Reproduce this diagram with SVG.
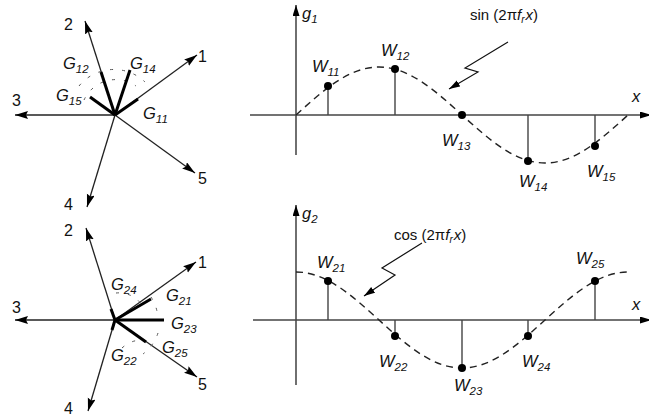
<svg xmlns="http://www.w3.org/2000/svg" width="649" height="419" viewBox="0 0 649 419">
<style>
.ax{stroke:#222;stroke-width:1.3;fill:none}
.gax{stroke:#444;stroke-width:1.4;fill:none}
.bold{stroke:#000;stroke-width:3;fill:none;stroke-linecap:butt}
.arc{stroke:#555;stroke-width:1;fill:none;stroke-dasharray:3 9}
.crv{stroke:#222;stroke-width:1.4;fill:none;stroke-dasharray:7 5}
.stem{stroke:#444;stroke-width:1.4}
.dot{fill:#000}
.num{font-family:"Liberation Sans",Arial,sans-serif;font-size:16px;fill:#111}
.lab{font-family:"Liberation Sans",Arial,sans-serif;font-size:16.5px;font-style:italic;fill:#111}
.sub{font-size:11.5px}
.fn{font-family:"Liberation Sans",Arial,sans-serif;font-size:15px;fill:#111}
</style>
<defs>
<marker id="ah" markerUnits="userSpaceOnUse" markerWidth="14" markerHeight="10" refX="13" refY="4" orient="auto">
<path d="M0,0 L13,4 L0,8 L2,4 Z" fill="#000"/>
</marker>
<marker id="ah2" markerUnits="userSpaceOnUse" markerWidth="12" markerHeight="8" refX="11" refY="3.5" orient="auto">
<path d="M0,0 L11,3.5 L0,7 Z" fill="#000"/>
</marker>
</defs>

<g id="star1">
<line class="ax" x1="115" y1="115" x2="197" y2="55" marker-end="url(#ah)"/>
<line class="ax" x1="115" y1="115" x2="85" y2="21" marker-end="url(#ah)"/>
<line class="ax" x1="115" y1="115" x2="15" y2="115" marker-end="url(#ah)"/>
<line class="ax" x1="115" y1="115" x2="87" y2="207" marker-end="url(#ah)"/>
<line class="ax" x1="115" y1="115" x2="195" y2="173" marker-end="url(#ah)"/>
<path class="arc" d="M84,100 A35,35 0 0 1 136,86"/>
<path class="arc" d="M79,86 A45,45 0 0 1 145,82"/>
<line class="bold" x1="115" y1="115" x2="138" y2="99"/>
<line class="bold" x1="115" y1="115" x2="101" y2="72"/>
<line class="bold" x1="115" y1="115" x2="130" y2="70"/>
<line class="bold" x1="115" y1="115" x2="90" y2="97"/>
<text class="num" x="198" y="62">1</text>
<text class="num" x="64" y="30">2</text>
<text class="num" x="12" y="106">3</text>
<text class="num" x="64" y="210">4</text>
<text class="num" x="198" y="184">5</text>
<text class="lab" x="63" y="69">G<tspan class="sub" dy="4">12</tspan></text>
<text class="lab" x="130" y="69">G<tspan class="sub" dy="4">14</tspan></text>
<text class="lab" x="56" y="101">G<tspan class="sub" dy="4">15</tspan></text>
<text class="lab" x="143" y="119">G<tspan class="sub" dy="4">11</tspan></text>
</g>

<g id="star2">
<line class="ax" x1="115" y1="320" x2="196" y2="262" marker-end="url(#ah)"/>
<line class="ax" x1="115" y1="320" x2="86" y2="228" marker-end="url(#ah)"/>
<line class="ax" x1="115" y1="320" x2="15" y2="320" marker-end="url(#ah)"/>
<line class="ax" x1="115" y1="320" x2="88" y2="411" marker-end="url(#ah)"/>
<line class="ax" x1="115" y1="320" x2="197" y2="377" marker-end="url(#ah)"/>
<path class="arc" d="M116,293 A28,28 0 0 1 142,305"/>
<path class="arc" d="M151,297 A43,43 0 0 1 158,319"/>
<path class="arc" d="M158,333 A44,44 0 0 1 143,354"/>
<path class="arc" d="M122,348 A30,30 0 0 1 140,340"/>
<line class="bold" x1="115" y1="320" x2="151" y2="299"/>
<line class="bold" x1="115" y1="320" x2="164" y2="320"/>
<line class="bold" x1="115" y1="320" x2="146" y2="342"/>
<line class="bold" x1="115" y1="320" x2="111" y2="309"/>
<line class="bold" x1="115" y1="320" x2="112" y2="330"/>
<text class="num" x="198" y="268">1</text>
<text class="num" x="64" y="236">2</text>
<text class="num" x="12" y="313">3</text>
<text class="num" x="64" y="414">4</text>
<text class="num" x="198" y="390">5</text>
<text class="lab" x="111" y="290">G<tspan class="sub" dy="4">24</tspan></text>
<text class="lab" x="166" y="301">G<tspan class="sub" dy="4">21</tspan></text>
<text class="lab" x="171" y="329">G<tspan class="sub" dy="4">23</tspan></text>
<text class="lab" x="162" y="353">G<tspan class="sub" dy="4">25</tspan></text>
<text class="lab" x="111" y="361">G<tspan class="sub" dy="4">22</tspan></text>
</g>

<g id="plot1">
<line class="ax" x1="296" y1="155" x2="296" y2="5" marker-end="url(#ah2)"/>
<line class="gax" x1="250" y1="115" x2="651" y2="115" marker-end="url(#ah2)"/>
<text class="lab" x="302" y="19">g<tspan class="sub" dy="4">1</tspan></text>
<text class="lab" x="632" y="102">x</text>
<path class="crv" d="M296,115 C323.07,90.41 348.96,67 379,67 C409.04,67 434.93,90.41 462,115 C489.07,139.59 514.96,163 545,163 C575.04,163 600.93,139.59 628,115"/>
<line class="stem" x1="328" y1="115" x2="328" y2="88"/>
<line class="stem" x1="395" y1="115" x2="395" y2="69"/>
<line class="stem" x1="528" y1="115" x2="528" y2="160"/>
<line class="stem" x1="595" y1="115" x2="595" y2="145"/>
<circle class="dot" cx="328" cy="86" r="4"/>
<circle class="dot" cx="395" cy="69" r="4"/>
<circle class="dot" cx="462" cy="115" r="4"/>
<circle class="dot" cx="528" cy="161" r="4"/>
<circle class="dot" cx="595" cy="146" r="4"/>
<text class="lab" x="312" y="72">W<tspan class="sub" dy="4">11</tspan></text>
<text class="lab" x="381" y="56">W<tspan class="sub" dy="4">12</tspan></text>
<text class="lab" x="442" y="146">W<tspan class="sub" dy="4">13</tspan></text>
<text class="lab" x="519" y="187">W<tspan class="sub" dy="4">14</tspan></text>
<text class="lab" x="587" y="177">W<tspan class="sub" dy="4">15</tspan></text>
<text class="fn" x="470" y="20">sin (2π<tspan font-style="italic">f</tspan><tspan font-style="italic" font-size="10" dy="3">r</tspan><tspan font-style="italic" dx="1" dy="-3">x</tspan>)</text>
<polyline fill="none" stroke="#111" stroke-width="1.2" points="508,42 465,68 478,72 449,89" marker-end="url(#ah2)"/>
</g>

<g id="plot2">
<line class="ax" x1="296" y1="385" x2="296" y2="205" marker-end="url(#ah2)"/>
<line class="gax" x1="253" y1="320" x2="651" y2="320" marker-end="url(#ah2)"/>
<text class="lab" x="302" y="219">g<tspan class="sub" dy="4">2</tspan></text>
<text class="lab" x="632" y="310">x</text>
<path class="crv" d="M296,272 C326.04,272 351.93,295.41 379,320 C406.07,344.59 431.96,368 462,368 C492.04,368 517.93,344.59 545,320 C572.07,295.41 597.96,272 628,272"/>
<line class="stem" x1="328" y1="320" x2="328" y2="281"/>
<line class="stem" x1="395" y1="320" x2="395" y2="335"/>
<line class="stem" x1="462" y1="320" x2="462" y2="368"/>
<line class="stem" x1="528" y1="320" x2="528" y2="335"/>
<line class="stem" x1="595" y1="320" x2="595" y2="281"/>
<circle class="dot" cx="328" cy="281" r="4"/>
<circle class="dot" cx="395" cy="336" r="4"/>
<circle class="dot" cx="462" cy="368" r="4"/>
<circle class="dot" cx="528" cy="336" r="4"/>
<circle class="dot" cx="595" cy="281" r="4"/>
<text class="lab" x="317" y="268">W<tspan class="sub" dy="4">21</tspan></text>
<text class="lab" x="379" y="367">W<tspan class="sub" dy="4">22</tspan></text>
<text class="lab" x="454" y="391">W<tspan class="sub" dy="4">23</tspan></text>
<text class="lab" x="522" y="367">W<tspan class="sub" dy="4">24</tspan></text>
<text class="lab" x="576" y="264">W<tspan class="sub" dy="4">25</tspan></text>
<text class="fn" x="394" y="240">cos (2π<tspan font-style="italic">f</tspan><tspan font-style="italic" font-size="10" dy="3">r</tspan><tspan font-style="italic" dx="1" dy="-3">x</tspan>)</text>
<polyline fill="none" stroke="#111" stroke-width="1.2" points="422,243 382,268 395,275 364,296" marker-end="url(#ah2)"/>
</g>
</svg>
